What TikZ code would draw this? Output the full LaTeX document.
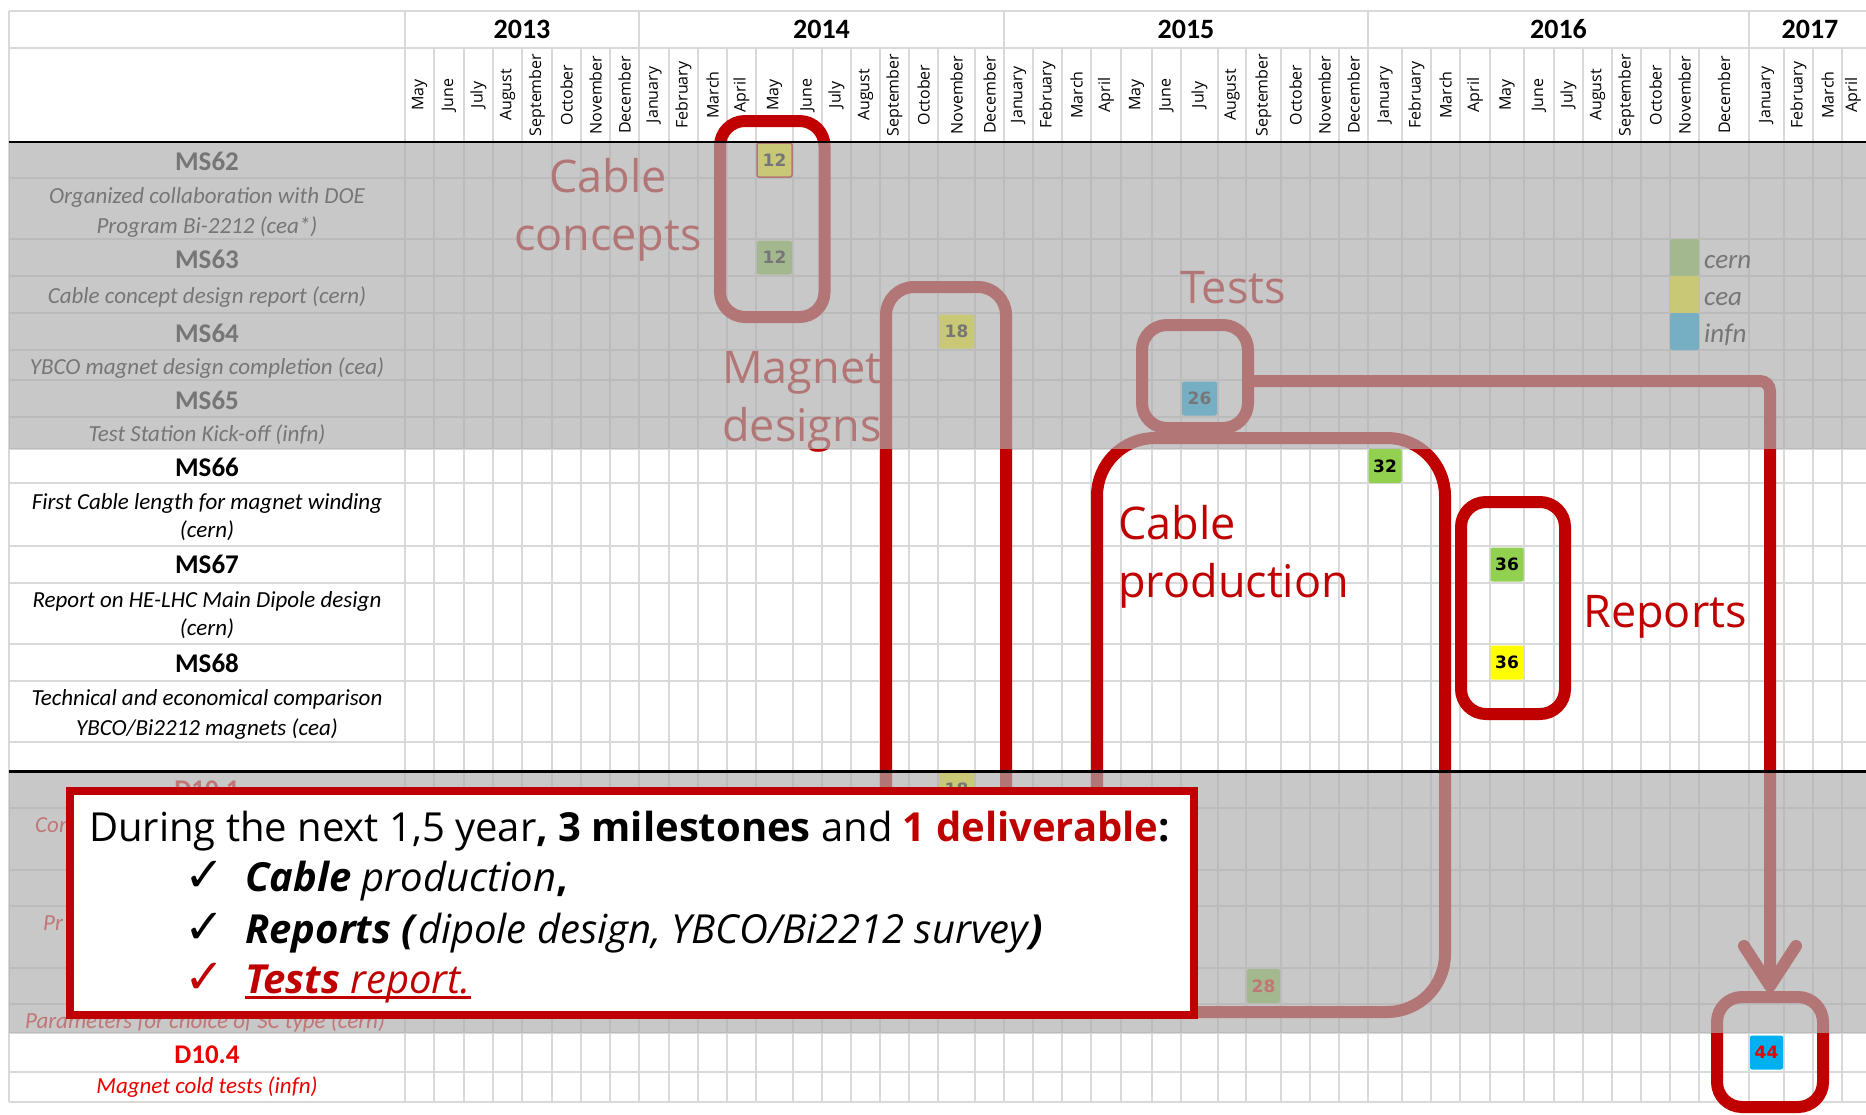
\documentclass[tikz,border=0pt]{standalone}
\usepackage{fontspec}
\setmainfont{Carlito}
\newfontfamily\osf{Open Sans}
\newfontfamily\dvf{DejaVu Sans}
\definecolor{rd}{RGB}{192,0,0}
\definecolor{brd}{RGB}{235,0,0}
\definecolor{grd}{RGB}{217,217,217}
\definecolor{ovl}{RGB}{174,174,174}
\definecolor{cgreen}{RGB}{146,208,80}
\definecolor{cyellow}{RGB}{255,255,0}
\definecolor{cblue}{RGB}{0,176,240}
\newcommand{\myfs}[1]{\fontsize{#1}{#1}\selectfont}
\newcommand{\myul}[1]{\setbox0\hbox{#1}\rlap{\rule[-6pt]{\wd0}{3pt}}\box0}
\begin{document}
\begin{tikzpicture}[x=1pt,y=-1pt,
  gridln/.style={grd, line width=2},
  ttl/.style={font=\myfs{27}\bfseries, anchor=base, inner sep=0},
  dsc/.style={font=\myfs{23}\itshape, anchor=base, inner sep=0},
  mon/.style={font=\osf\myfs{16}, rotate=90, inner sep=0},
  yr/.style={font=\myfs{28}\bfseries, anchor=base, inner sep=0},
  cell/.style={rounded corners=2, inner sep=0, minimum height=34, font=\dvf\myfs{17}\bfseries},
  hl/.style={rd, line width=12, rounded corners=25},
  lbl/.style={font=\osf\myfs{45}, text=rd, inner sep=0},
  lgd/.style={font=\myfs{27}\itshape, anchor=base west, inner sep=0},
  cl/.style={font=\osf\myfs{40}, anchor=base west, inner sep=0},
  ck/.style={font=\dvf\myfs{48}, anchor=base west, inner sep=0},
]
\useasboundingbox (0,0) rectangle (1866,1114);
\fill[white] (0,0) rectangle (1866,1114);

% ---- grid
\draw[gridln] (9,11) -- (1866,11);
\foreach \y in {48,178,239,276,313,350,380,417,449,483,546,583,644,681,742,808,870,906,968,1004,1033,1072,1102}
  \draw[gridln] (9,\y) -- (1866,\y);
\foreach \x in {434,464,493,522,552,581,610,669,698,727,756,793,822,851,880,909,938,975,1033,1062,1091,1121,1152,1181,1218,1246,1281,1310,1339,1402,1431,1460,1490,1524,1554,1583,1612,1641,1670,1699,1784,1813,1842}
  \draw[gridln] (\x,48) -- (\x,1102);
\foreach \x in {9,405,639,1004,1368,1749}
  \draw[gridln] (\x,11) -- (\x,1102);

% ---- years
\node[yr] (y13) at (522,38) {2013};
\node[yr] (y14) at (821.5,38) {2014};
\node[yr] (y15) at (1186,38) {2015};
\node[yr] (y16) at (1558.5,38) {2016};
\node[yr] (y17) at (1810,38) {2017};

% ---- months
\foreach \a/\b/\m [count=\i] in {405/434/May,434/464/June,464/493/July,493/522/August,522/552/September,552/581/October,581/610/November,610/639/December,
639/669/January,669/698/February,698/727/March,727/756/April,756/793/May,793/822/June,822/851/July,851/880/August,880/909/September,909/938/October,938/975/November,975/1004/December,
1004/1033/January,1033/1062/February,1062/1091/March,1091/1121/April,1121/1152/May,1152/1181/June,1181/1218/July,1218/1246/August,1246/1281/September,1281/1310/October,1310/1339/November,1339/1368/December,
1368/1402/January,1402/1431/February,1431/1460/March,1460/1490/April,1490/1524/May,1524/1554/June,1554/1583/July,1583/1612/August,1612/1641/September,1641/1670/October,1670/1699/November,1699/1749/December,
1749/1784/January,1784/1813/February,1813/1842/March,1842/1864/April}
  \node[mon] (m\i) at ({(\a+\b)/2},95) {\m};

% ---- cells
\node[cell, fill=cyellow, draw=rd, line width=1.5, minimum width=35] (c12a) at (774.5,160) {12};
\node[cell, fill=cgreen, minimum width=35] (c12b) at (774.5,257.5) {12};
\node[cell, fill=cyellow, minimum width=35] (c18a) at (956.5,331.5) {18};
\node[cell, fill=cblue, minimum width=35] (c26) at (1199.5,398.5) {26};
\node[cell, fill=cgreen, minimum width=33] (c32) at (1385,466) {32};
\node[cell, fill=cgreen, minimum width=33] (c36a) at (1507,564.5) {36};
\node[cell, fill=cyellow, minimum width=33] (c36b) at (1507,662.5) {36};
\node[cell, fill=cyellow, minimum width=35] (c18b) at (956.5,789.5) {18};
\node[cell, fill=cgreen, minimum width=33, text=brd] (c28) at (1263.5,986) {28};
\node[cell, fill=cblue, minimum width=33, text=brd] (c44) at (1766.5,1052.5) {44};

% ---- legend
\node[cell, fill=cgreen, minimum width=29, minimum height=37] (lg1) at (1684.5,257.5) {};
\node[cell, fill=cyellow, minimum width=29, minimum height=37] (lg2) at (1684.5,294.5) {};
\node[cell, fill=cblue, minimum width=29, minimum height=37] (lg3) at (1684.5,331.5) {};
\node[lgd] (lg1t) at (1704,268) {cern};
\node[lgd] (lg2t) at (1704,305) {cea};
\node[lgd] (lg3t) at (1704,342) {infn};

% ---- label column
\node[ttl] (ms62) at (207,170) {MS62};
\node[dsc] (d62a) at (207,203) {Organized collaboration with DOE};
\node[dsc] (d62b) at (207,233) {Program Bi-2212 (cea*)};
\node[ttl] (ms63) at (207,268) {MS63};
\node[dsc] (d63) at (207,303) {Cable concept design report (cern)};
\node[ttl] (ms64) at (207,342) {MS64};
\node[dsc] (d64) at (207,374) {YBCO magnet design completion (cea)};
\node[ttl] (ms65) at (207,409) {MS65};
\node[dsc] (d65) at (207,441) {Test Station Kick-off (infn)};
\node[ttl] (ms66) at (207,476) {MS66};
\node[dsc] (d66a) at (207,509) {First Cable length for magnet winding};
\node[dsc] (d66b) at (207,537) {(cern)};
\node[ttl] (ms67) at (207,573) {MS67};
\node[dsc] (d67a) at (207,607) {Report on HE-LHC Main Dipole design};
\node[dsc] (d67b) at (207,635) {(cern)};
\node[ttl] (ms68) at (207,672) {MS68};
\node[dsc] (d68a) at (207,705) {Technical and economical comparison};
\node[dsc] (d68b) at (207,735) {YBCO/Bi2212 magnets (cea)};
\node[ttl, text=brd] (d101) at (207,798) {D10.1};
\node[dsc, text=brd, anchor=base west] (d101d) at (35,832) {Con};
\node[dsc, text=brd, anchor=base west] (d102d) at (43,930) {Pr};
\node[dsc, text=brd] (d103d) at (205,1028) {Parameters for choice of SC type (cern)};
\node[ttl, text=brd] (d104) at (207,1063) {D10.4};
\node[dsc, text=brd] (d104d) at (207,1093) {Magnet cold tests (infn)};

% ---- red labels
\node[lbl, anchor=base] (lcc1) at (608,192) {Cable};
\node[lbl, anchor=base] (lcc2) at (608,250) {concepts};
\node[lbl, anchor=base west] (lmd1) at (722,383) {Magnet};
\node[lbl, anchor=base west] (lmd2) at (722,441) {designs};
\node[lbl, anchor=base] (lts) at (1233,303) {Tests};
\node[lbl, anchor=base west] (lcp1) at (1118,539) {Cable};
\node[lbl, anchor=base west] (lcp2) at (1118,597) {production};
\node[lbl, anchor=base west] (lrp) at (1583,627) {Reports};

% ---- red highlight boxes
\draw[hl] (720,121) rectangle (824.5,317);
\draw[hl, rounded corners=28] (886,287) rectangle (1006,960);
\draw[hl] (1142,325) rectangle (1248,428);
\draw[hl, rounded corners=58] (1097,438) rectangle (1445,1012);
\draw[hl] (1461,502) rectangle (1565,714);
\draw[hl] (1717,997) rectangle (1823,1107);
\coordinate (tstR) at (1248,381);
\coordinate (tip) at (1770,986);
\draw[hl, rounded corners=10] (tstR) -| (tip);
\draw[rd, line width=12, line cap=round, line join=round] ([xshift=-26,yshift=40]tip) -- (tip) -- ([xshift=26,yshift=40]tip);

% ---- gray overlays
\fill[ovl, opacity=0.68] (9,142) rectangle (1866,449);
\fill[ovl, opacity=0.68] (9,771) rectangle (1866,1033);

% ---- black rules
\draw[black, line width=2] (9,142) -- (1866,142);
\draw[black, line width=3] (9,771) -- (1866,771);

% ---- callout
\node[draw=rd, line width=8, fill=white, minimum width=1124, minimum height=224, inner sep=0] (callout) at (632,903) {};
\node[cl] (cl1) at (89,841) {During the next 1,5 year\textbf{, 3 milestones} and \textbf{\textcolor{rd}{1 deliverable}:}};
\node[ck] (ck2) at (184,891) {✓};
\node[cl] (cl2) at (245,891) {\textbf{\textit{Cable}} \textit{production}\textbf{,}};
\node[ck] (ck3) at (184,943) {✓};
\node[cl] (cl3) at (245,943) {\textbf{\textit{Reports (}}\textit{dipole design, YBCO/Bi2212 survey}\textbf{\textit{)}}};
\node[ck, text=rd] (ck4) at (184,993) {✓};
\node[cl, text=rd] (cl4) at (245,993) {\myul{\textbf{\textit{Tests}} \textit{report.}}};
\end{tikzpicture}
\end{document}
